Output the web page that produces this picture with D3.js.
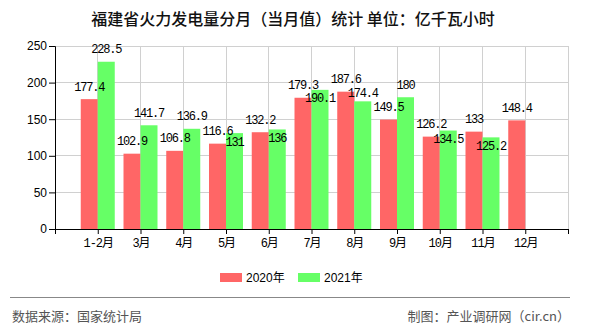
<!DOCTYPE html>
<html>
<head>
<meta charset="utf-8">
<script src="https://cdn.jsdelivr.net/npm/d3@7"></script>
<style>
  html, body { margin: 0; padding: 0; background: #fff; }
  svg { display: block; }
</style>
</head>
<body>
<svg id="chart" width="590" height="330"></svg>
<script>
const titleText = "福建省火力发电量分月（当月值）统计 单位：亿千瓦小时";
const categories = ["1-2月", "3月", "4月", "5月", "6月", "7月", "8月", "9月", "10月", "11月", "12月"];
const seriesNames = ["2020年", "2021年"];
const values2020 = [177.4, 102.9, 106.8, 116.6, 132.2, 179.3, 187.6, 149.5, 126.2, 133, 148.4];
const values2021 = [228.5, 141.7, 136.9, 131, 136, 190.1, 174.4, 180, 134.5, 125.2, null];
const yTicks = [0, 50, 100, 150, 200, 250];
const sourceText = "数据来源：国家统计局";
const creditText = "制图：产业调研网（cir.cn）";

(function () {
const colors = ["#ff6666", "#66ff66"];
const svg = d3.select("#chart");
const pLeft = 55, pRight = 568, pTop = 46, pBottom = 229;

const x = d3.scalePoint().domain(["", ...categories, " "]).range([pLeft, pRight]);
const y = d3.scaleLinear().domain([0, 250]).range([pBottom, pTop]);
const barW = 17;

// title
svg.append("text").attr("x", 293).attr("y", 25).attr("text-anchor", "middle")
  .attr("font-family", "'Noto Sans CJK SC', sans-serif").attr("font-size", 16)
  .attr("font-weight", 500).attr("fill", "#111").text(titleText);

// grid
const grid = svg.append("g");
grid.selectAll("line.h").data(yTicks.filter(d => d > 0)).join("line").attr("class", "h")
  .attr("x1", pLeft).attr("x2", pRight).attr("y1", d => y(d)).attr("y2", d => y(d))
  .attr("stroke", "#d0d0d0").attr("shape-rendering", "crispEdges");
grid.selectAll("line.v").data([...categories, " "]).join("line").attr("class", "v")
  .attr("x1", d => x(d)).attr("x2", d => x(d)).attr("y1", pTop).attr("y2", pBottom)
  .attr("stroke", "#d0d0d0").attr("shape-rendering", "crispEdges");

// bars
const series = [values2020, values2021];
series.forEach((vals, si) => {
  svg.append("g").selectAll("rect").data(categories.map((c, i) => ({c, v: vals[i]})).filter(d => d.v != null))
    .join("rect")
    .attr("x", d => x(d.c) + (si === 0 ? -barW : 0))
    .attr("width", barW)
    .attr("y", d => y(d.v))
    .attr("height", d => pBottom - y(d.v))
    .attr("fill", colors[si]);
});

// axes
const yAxis = svg.append("g").attr("transform", `translate(${pLeft},0)`)
  .call(d3.axisLeft(y).tickValues(yTicks).tickSize(6).tickPadding(2));
yAxis.select(".domain").attr("stroke", "#000");
yAxis.selectAll("text").attr("font-family", "'Liberation Sans', Arial, sans-serif").attr("font-size", 12).attr("fill", "#000");

const xAxis = svg.append("g").attr("transform", `translate(0,${pBottom})`)
  .call(d3.axisBottom(x).tickSize(5).tickSizeOuter(0).tickPadding(4));
xAxis.select(".domain").attr("stroke", "#000");
xAxis.selectAll("text").attr("font-family", "'Liberation Mono', 'Noto Sans CJK SC', monospace")
  .attr("font-size", 12).attr("letter-spacing", "-1px").attr("fill", "#000");

// value labels with simple collision avoidance
const placed = [];
const labelLayer = svg.append("g").attr("font-family", "'Liberation Mono', monospace")
  .attr("font-size", 12).attr("letter-spacing", "-1.2px").attr("fill", "#000");
function overlaps(b) {
  return placed.some(p => b.x0 < p.x1 + 1 && b.x1 > p.x0 - 1 && b.y0 < p.y1 + 3 && b.y1 > p.y0 - 3);
}
series.forEach((vals, si) => {
  categories.forEach((c, i) => {
    const v = vals[i];
    if (v == null) return;
    const cx = x(c) + (si === 0 ? -barW / 2 : barW / 2);
    const t = labelLayer.append("text").attr("x", cx).attr("text-anchor", "middle").text(String(v));
    const w = t.node().getComputedTextLength();
    const offsets = si === 0 ? [-8.5] : [-8.5, -4, 12.5];
    let chosen = null;
    for (const o of offsets) {
      const base = y(v) + o;
      const b = {x0: cx - w / 2, x1: cx + w / 2, y0: base - 9, y1: base};
      if (!overlaps(b)) { chosen = b; break; }
    }
    if (!chosen) { const base = y(v) + offsets[offsets.length - 1]; chosen = {x0: cx - w / 2, x1: cx + w / 2, y0: base - 9, y1: base}; }
    t.attr("y", chosen.y1);
    placed.push(chosen);
  });
});

// legend
const legend = svg.append("g");
const legendX = [220, 298];
seriesNames.forEach((n, i) => {
  legend.append("rect").attr("x", legendX[i]).attr("y", 273).attr("width", 22).attr("height", 9).attr("fill", colors[i]);
  legend.append("text").attr("x", legendX[i] + 26).attr("y", 282)
    .attr("font-family", "'Liberation Sans', 'Noto Sans CJK SC', sans-serif").attr("font-size", 12)
    .attr("fill", "#000").text(n);
});

// footer
svg.append("line").attr("x1", 10).attr("x2", 570).attr("y1", 297.5).attr("y2", 297.5).attr("stroke", "#888");
svg.append("text").attr("x", 12).attr("y", 321).attr("font-family", "'Noto Sans CJK SC', sans-serif")
  .attr("font-size", 13).attr("fill", "#555").text(sourceText);
svg.append("text").attr("x", 570).attr("y", 321).attr("text-anchor", "end").attr("font-family", "'Noto Sans CJK SC', sans-serif")
  .attr("font-size", 13).attr("fill", "#555").text(creditText);
})();
</script>
</body>
</html>
